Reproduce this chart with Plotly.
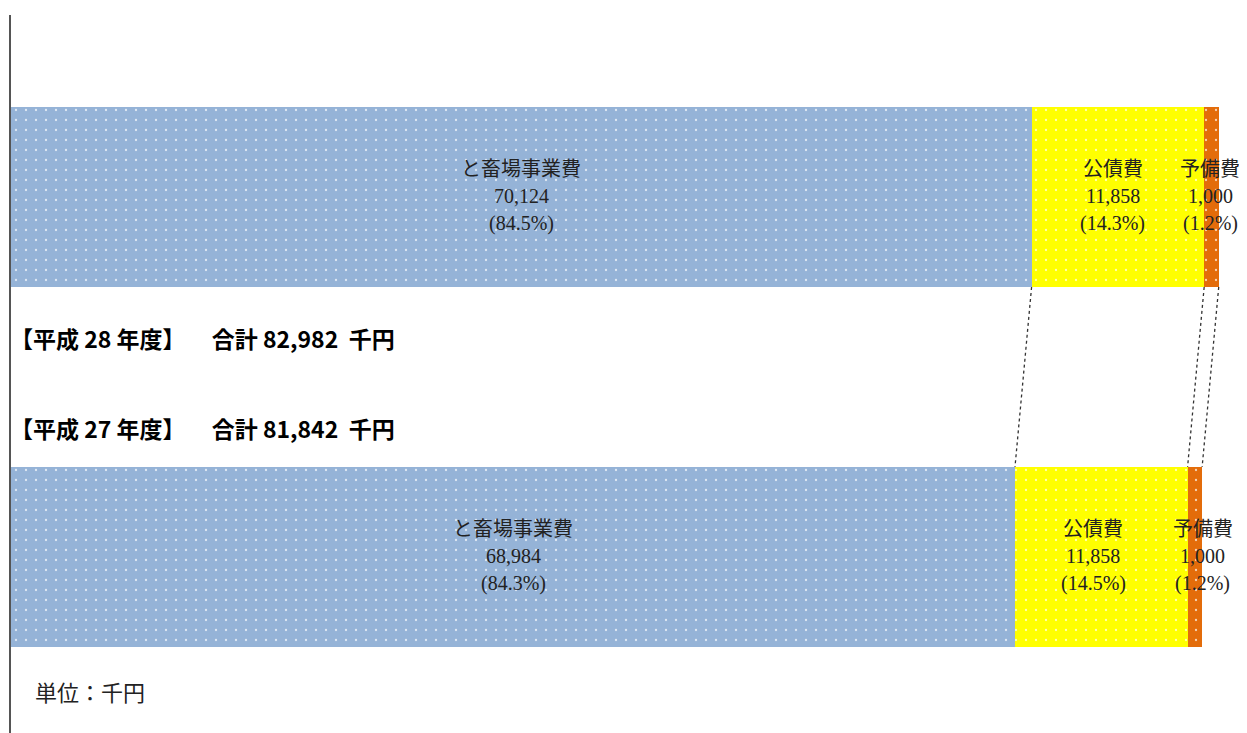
import plotly.graph_objects as go

# ---- data ----
years = ["平成27年度", "平成28年度"]
categories = ["と畜場事業費", "公債費", "予備費"]
values_h27 = [68984, 11858, 1000]
values_h28 = [70124, 11858, 1000]
pct_h27 = ["84.3%", "14.5%", "1.2%"]
pct_h28 = ["84.5%", "14.3%", "1.2%"]
totals = ["81,842", "82,982"]
year_nums = [27, 28]
colors = ["#95B3D7", "#FFFF00", "#E36C0A"]

ypos = [0, 1]  # bottom: H27, top: H28
series = [values_h27, values_h28]
pcts = [pct_h27, pct_h28]
BAR_W = 0.5

fig = go.Figure()
for ci, cat in enumerate(categories):
    fig.add_trace(go.Bar(
        y=ypos, x=[series[0][ci], series[1][ci]], orientation="h",
        width=BAR_W, name=cat,
        marker=dict(color=colors[ci], line=dict(width=0),
                    pattern=dict(shape=".", fgcolor="white", fgopacity=0.7,
                                 size=10, solidity=0.04)),
        hoverinfo="skip", showlegend=False,
    ))

label_font = dict(family="Liberation Serif, Noto Sans CJK JP", size=20, color="#222")
xshift_map = {0: [0, -8, 8], 1: [0, -5, -1]}
for yi, vals in zip(ypos, series):
    cum = 0
    for ci, v in enumerate(vals):
        mid = cum + v / 2
        cum += v
        lines = [categories[ci], f"{v:,}", f"({pcts[yi][ci]})"]
        for li, t in enumerate(lines):
            fig.add_annotation(x=mid, y=yi, xref="x", yref="y", text=t,
                               showarrow=False, font=label_font,
                               xshift=xshift_map[yi][ci], yshift=(1 - li) * 27 + 1)

# connector lines between bars
cum_bot = 0
cum_top = 0
for ci in range(len(categories)):
    cum_bot += values_h27[ci]
    cum_top += values_h28[ci]
    fig.add_shape(type="line", xref="x", yref="y",
                  x0=cum_top, y0=1 - BAR_W / 2, x1=cum_bot, y1=0 + BAR_W / 2,
                  line=dict(color="#333", width=1.3, dash="dot"))

# page has 8px body margin -> figure placed at (8,8)
H = 718  # plot height in px; plot top at screen y=15
def py(px):
    return 1 - (px - 15) / H

NB = "\u00a0"
head_font = dict(family="Noto Sans CJK JP", size=23, color="#000")
for yy, yr, tot in [(338, year_nums[1], totals[1]), (428, year_nums[0], totals[0])]:
    txt = f"<b>【平成{NB}{yr}{NB}年度】{NB*5}合計{NB}{tot}{NB*2}千円</b>"
    fig.add_annotation(x=0, y=py(yy), xref="paper", yref="paper",
                       showarrow=False, xshift=-3,
                       text=txt, xanchor="left", yanchor="middle", font=head_font)
fig.add_annotation(x=0, y=py(693), xref="paper", yref="paper", showarrow=False,
                   xshift=22, text="単位：千円", xanchor="left", yanchor="middle",
                   font=dict(family="Liberation Serif, Noto Sans CJK JP", size=22, color="#222"))

fig.update_layout(
    width=1239, height=725,
    margin=dict(l=3, r=0, t=7, b=0),
    paper_bgcolor="white", plot_bgcolor="white",
    barmode="stack", bargap=0,
    xaxis=dict(range=[0, 84925], showgrid=False, zeroline=False,
               showticklabels=False, showline=False, fixedrange=True),
    yaxis=dict(range=[-0.4889, 1.5056], showgrid=False, zeroline=False,
               showticklabels=False, showline=True, linecolor="#555",
               linewidth=1.5, fixedrange=True),
)

fig.write_html("out.html")
